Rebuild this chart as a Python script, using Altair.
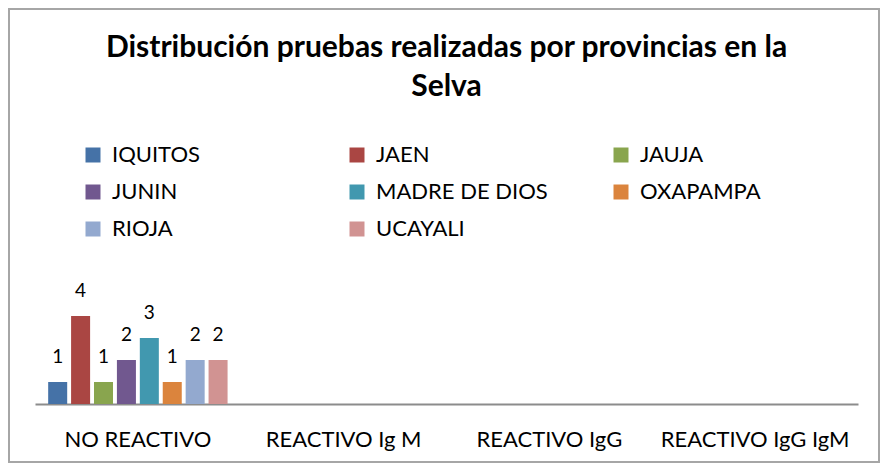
import altair as alt
import pandas as pd

categories = ["NO REACTIVO", "REACTIVO Ig M", "REACTIVO IgG", "REACTIVO IgG IgM"]
provinces = ["IQUITOS", "JAEN", "JAUJA", "JUNIN", "MADRE DE DIOS", "OXAPAMPA", "RIOJA", "UCAYALI"]
no_reactivo = [1, 4, 1, 2, 3, 1, 2, 2]
colors = ["#4572A7", "#AA4643", "#89A54E", "#71588F", "#4198AF", "#DB843D", "#93A9CF", "#D19392"]

df = pd.DataFrame({
    "categoria": ["NO REACTIVO"] * len(provinces),
    "provincia": provinces,
    "valor": no_reactivo,
})

FONT = "Lato"

x = alt.X("categoria:N", scale=alt.Scale(domain=categories, paddingInner=0, paddingOuter=0),
          axis=alt.Axis(title=None, labelAngle=0, ticks=False, domainColor="#8C8C8C", domainWidth=2,
                        labelFontSize=22, labelColor="#000000", labelFont=FONT, labelPadding=25,
                        labelLimit=400, grid=False))
xo = alt.XOffset("provincia:N", sort=provinces,
                 scale=alt.Scale(domain=provinces, paddingInner=0.17, paddingOuter=0.575))
y = alt.Y("valor:Q", scale=alt.Scale(domain=[0, 7]), axis=None)

bars = alt.Chart(df).mark_bar().encode(
    x=x, xOffset=xo, y=y,
    color=alt.Color("provincia:N", sort=provinces,
                    scale=alt.Scale(domain=provinces, range=colors),
                    legend=alt.Legend(title=None, orient="none", legendX=47, legendY=-106,
                                      direction="horizontal",
                                      columns=3, gridAlign="all", columnPadding=62,
                                      rowPadding=15, symbolType="square", symbolSize=225,
                                      symbolStrokeWidth=0, labelFontSize=22, labelFont=FONT,
                                      labelColor="#000000", labelOffset=8, labelLimit=300)),
)

labels = alt.Chart(df).mark_text(baseline="alphabetic", dy=-19, fontSize=19, font=FONT,
                                 color="#000000").encode(
    x=x, xOffset=xo, y=y, text="valor:Q"
)

frame = alt.Chart(df).mark_rect(fill="transparent", stroke="#A6A6A6", strokeWidth=1.5).encode(
    x=alt.value(-26), x2=alt.value(844), y=alt.value(-241), y2=alt.value(212)
)

chart = alt.layer(frame, bars, labels).properties(
    width=823, height=154,
    title=alt.TitleParams(
        ["Distribución pruebas realizadas por provincias en la", "Selva"],
        font=FONT, fontSize=30, fontWeight="bold", color="#000000",
        anchor="middle", frame="group", lineHeight=39, offset=-124, baseline="bottom",
    ),
    autosize=alt.AutoSizeParams(type="none"),
    padding={"left": 27, "top": 242, "right": 22, "bottom": 59},
).configure_view(stroke=None)

chart.save("out.html", embed_options={"renderer": "svg", "actions": False})
